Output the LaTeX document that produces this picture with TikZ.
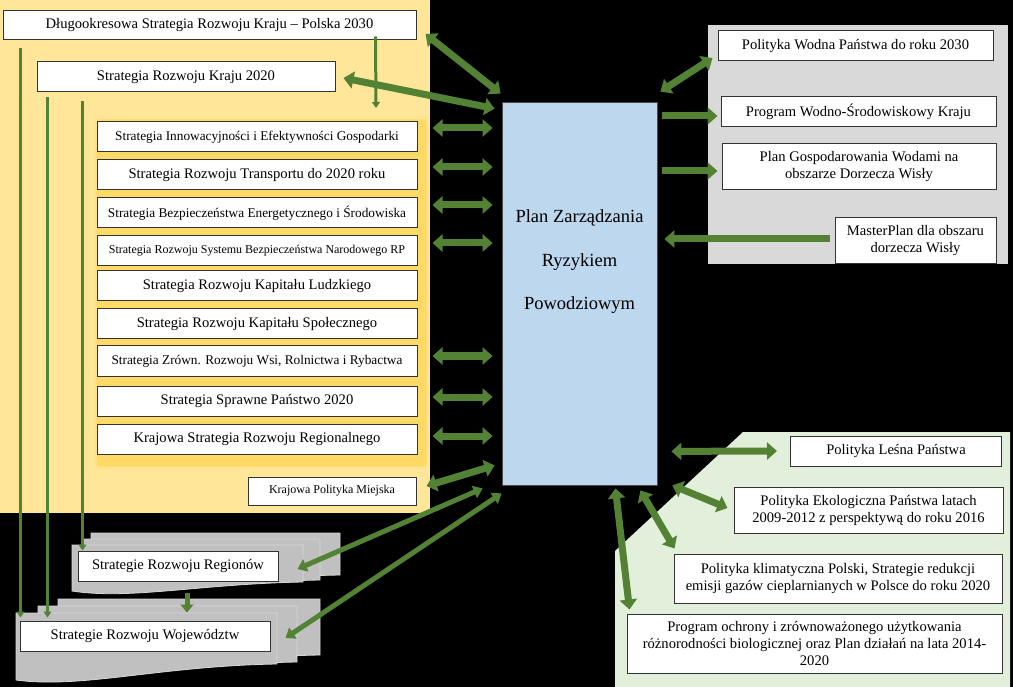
\documentclass[tikz,border=0pt]{standalone}
\usepackage{fontspec}
\setmainfont{Liberation Serif}
\usetikzlibrary{arrows.meta,calc}
\definecolor{grn}{RGB}{84,130,53}
\definecolor{yel}{RGB}{255,230,153}
\definecolor{yin}{RGB}{255,217,102}
\definecolor{yedge}{RGB}{255,228,145}
\definecolor{gpan}{RGB}{217,217,217}
\definecolor{lgreen}{RGB}{226,239,218}
\definecolor{planblue}{RGB}{189,215,238}
\definecolor{stk}{RGB}{192,192,192}
\definecolor{stkline}{RGB}{215,215,215}
\newcommand\szmain{\fontsize{14.6}{17}\selectfont}
\newcommand\szsmall{\fontsize{13.3}{16}\selectfont}
\newcommand\szxs{\fontsize{12}{14}\selectfont}
\newcommand\szbig{\fontsize{18.5}{43.5}\selectfont}
\newcommand\mylayer[5]{%
  \path[layer] (#1,#2) -- (#3,#2) -- (#3,#4) .. controls ({#1+0.55*(#3-#1)},{#4+2}) and ({#1+0.25*(#3-#1)},{#5+9}) .. (#1,#5) -- cycle;}
\tikzset{
  box/.style={draw=black!80, fill=white, line width=1pt, inner sep=1pt, align=center, font=\szmain},
  panel/.style={inner sep=0pt, anchor=north west},
  dbl/.style={draw=grn, line width=7pt, arrows={Triangle[width=17pt,length=10pt]-Triangle[width=17pt,length=10pt]}},
  sgl/.style={draw=grn, line width=7pt, arrows={-Triangle[width=17pt,length=10pt]}},
  mdbl/.style={draw=grn, line width=5pt, arrows={Triangle[width=13pt,length=9pt]-Triangle[width=13pt,length=9pt]}},
  msgl/.style={draw=grn, line width=5pt, arrows={-Triangle[width=13pt,length=8pt]}},
  thn/.style={draw=grn, line width=3pt, arrows={-Triangle[width=8pt,length=6pt]}},
  layer/.style={fill=stk, draw=stkline, line width=0.8pt},
}
\begin{document}
\begin{tikzpicture}[x=1pt,y=-1pt]
\fill[black] (0,0) rectangle (1013,687);
\useasboundingbox (0,0) rectangle (1013,687);

% panels
\node[panel, fill=yel, minimum width=430pt, minimum height=513pt] (ypanel) at (0,0) {};
\node[panel, fill=yin, draw=yedge, line width=3pt, rounded corners=4pt, minimum width=333pt, minimum height=350pt] (ipanel) at (93.5,116.5) {};
\node[panel, fill=gpan, minimum width=300pt, minimum height=239pt] (gpanel) at (708,25) {};
\fill[lgreen] (743,432) -- (1010,432) -- (1010,687) -- (615,687) -- (615,551) -- cycle;

% stacks
\mylayer{91}{533}{340}{575}{585}
\mylayer{82}{539}{320}{580}{588}
\mylayer{72}{545}{303}{582}{591}
\mylayer{58}{599}{320}{655}{670}
\mylayer{38}{606}{297}{662}{675}
\mylayer{16}{613}{277}{664}{680}

% left boxes
\node[box, minimum width=413pt, minimum height=29pt] (d2030) at (209.5,25.5) {Długookresowa Strategia Rozwoju Kraju – Polska 2030};
\node[box, minimum width=298pt, minimum height=30pt] (s2020) at (186,77) {Strategia Rozwoju Kraju 2020};
\begin{scope}[every node/.append style={box, minimum width=320pt, minimum height=30pt}]
\node[font=\szsmall] (s1) at (257,137) {Strategia Innowacyjności i Efektywności Gospodarki};
\node (s2) at (257,175) {Strategia Rozwoju Transportu do 2020 roku};
\node[font=\szsmall] (s3) at (257,213) {Strategia Bezpieczeństwa Energetycznego i Środowiska};
\node[font=\szxs] (s4) at (257,251) {Strategia Rozwoju Systemu Bezpieczeństwa Narodowego RP};
\node (s5) at (257,286) {Strategia Rozwoju Kapitału Ludzkiego};
\node (s6) at (257,324) {Strategia Rozwoju Kapitału Społecznego};
\node[font=\szsmall] (s7) at (257,361) {Strategia Zrówn. Rozwoju Wsi, Rolnictwa i Rybactwa};
\node (s8) at (257,401) {Strategia Sprawne Państwo 2020};
\node (s9) at (257,439) {Krajowa Strategia Rozwoju Regionalnego};
\end{scope}
\node[box, font=\szxs, minimum width=168pt, minimum height=28pt] (kpm) at (332,491) {Krajowa Polityka Miejska};
\node[box, minimum width=200pt, minimum height=30pt] (reg) at (178,566) {Strategie Rozwoju Regionów};
\node[box, minimum width=250pt, minimum height=30pt] (woj) at (145,636) {Strategie Rozwoju Województw};

% center
\node[draw=black!70, line width=0.8pt, fill=planblue, minimum width=155pt, minimum height=383pt, inner sep=0pt] (plan) at (579.5,293.5) {};
\node[font=\szbig, align=center] (planlbl) at (579.5,262) {Plan Zarządzania\\Ryzykiem\\Powodziowym};

% right boxes
\node[box, minimum width=275pt, minimum height=30pt] (pw) at (855.5,46) {Polityka Wodna Państwa do roku 2030};
\node[box, minimum width=275pt, minimum height=30pt] (pws) at (858.5,112) {Program Wodno-Środowiskowy Kraju};
\node[box, minimum width=274pt, minimum height=46pt] (pgw) at (859,167) {Plan Gospodarowania Wodami na\\obszarze Dorzecza Wisły};
\node[box, minimum width=161pt, minimum height=46pt] (mp) at (915.5,241) {MasterPlan dla obszaru\\dorzecza Wisły};
\node[box, minimum width=211pt, minimum height=30pt] (pl) at (896,451) {Polityka Leśna Państwa};
\node[box, minimum width=269pt, minimum height=46pt] (pe) at (868.5,510) {Polityka Ekologiczna Państwa latach\\2009-2012 z perspektywą do roku 2016};
\node[box, minimum width=328pt, minimum height=49pt] (pk) at (838,578.5) {Polityka klimatyczna Polski, Strategie redukcji\\emisji gazów cieplarnianych w Polsce do roku 2020};
\node[box, minimum width=375pt, minimum height=59pt] (po) at (814.5,643.5) {Program ochrony i zrównoważonego użytkowania\\różnorodności biologicznej oraz Plan działań na lata 2014-\\2020};

% thin vertical lines
\draw[thn] ($(d2030.south west)+(18,8)$) -- ($(woj.north west)+(1,-3)$);
\draw[thn] ($(s2020.south west)+(11,5)$) -- ($(woj.north west)+(28,-3)$);
\draw[thn] ($(s2020.south west)+(46,9)$) -- ($(reg.north west)+(5,0)$);
\draw[thn] ($(d2030.south west)+(373,-4)$) -- ($(ipanel.north west)+(282.5,-8.5)$);

% thick arrows left
\draw[dbl] ($(d2030.east)+(9,8.5)$) -- ($(plan.north west)+(-1,-8)$);
\draw[dbl] ($(s2020.east)+(8,1)$) -- ($(plan.north west)+(-7,7)$);
\draw[dbl] ($(s1.east)+(15,-9)$) -- ($(s1.east -| plan.west)+(-9,-9)$);
\draw[dbl] ($(s2.east)+(15,-8)$) -- ($(s2.east -| plan.west)+(-9,-8)$);
\draw[dbl] ($(s3.east)+(15,-8)$) -- ($(s3.east -| plan.west)+(-9,-8)$);
\draw[dbl] ($(s4.east)+(15,-8)$) -- ($(s4.east -| plan.west)+(-9,-8)$);
\draw[dbl] ($(s7.east)+(15,-5)$) -- ($(s7.east -| plan.west)+(-9,-5)$);
\draw[dbl] ($(s8.east)+(15,-4)$) -- ($(s8.east -| plan.west)+(-9,-4)$);
\draw[dbl] ($(s9.east)+(15,-3)$) -- ($(s9.east -| plan.west)+(-9,-3)$);
\draw[dbl] ($(kpm.east)+(10,-5)$) -- ($(plan.south west)+(-7,-20)$);
\draw[mdbl] ($(reg.east)+(19,3)$) -- ($(plan.south west)+(-19,3)$);
\draw[mdbl] ($(woj.east)+(15,2)$) -- ($(plan.south west)+(0,8)$);
\draw[msgl] ($(reg.south)+(9,11)$) -- ($(woj.north)+(42,-8)$);

% thick arrows right
\draw[dbl] ($(plan.north east)+(3,-10)$) -- ($(pw.west)+(-5,12)$);
\draw[sgl] ($(plan.east |- pws.west)+(5,4)$) -- ($(pws.west)+(-3,4)$);
\draw[sgl] ($(plan.east |- pgw.west)+(5,4)$) -- ($(pgw.west)+(-4,4)$);
\draw[sgl] ($(mp.west)+(-5,-2)$) -- ($(plan.east |- mp.west)+(7,-2)$);
\draw[dbl] ($(plan.south east)+(14,-34)$) -- ($(pl.west)+(-13,0)$);
\draw[dbl] ($(plan.south east)+(15,0)$) -- ($(pe.west)+(-6,-2)$);
\draw[dbl] ($(plan.south east)+(-17,5)$) -- ($(pk.north west)+(1,-5)$);
\draw[dbl] ($(plan.south east)+(-42,3)$) -- ($(po.north west)+(3,-4)$);
\end{tikzpicture}
\end{document}
